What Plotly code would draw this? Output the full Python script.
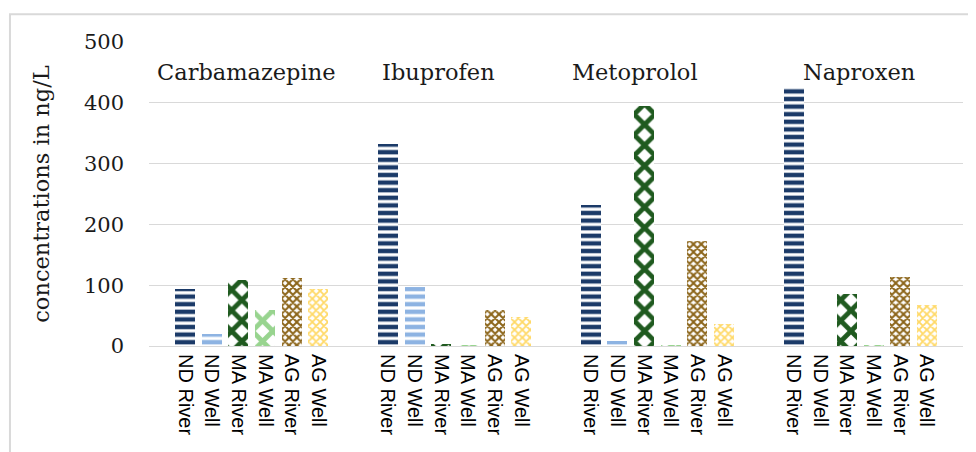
import plotly.graph_objects as go

# ---- data ----
compounds = ["Carbamazepine", "Ibuprofen", "Metoprolol", "Naproxen"]
sites = ["ND River", "ND Well", "MA River", "MA Well", "AG River", "AG Well"]

nd_river = [94, 333, 232, 424]
nd_well = [19, 97, 8, 0]
ma_river = [109, 3, 394, 86]
ma_well = [59, 1, 1, 1]
ag_river = [112, 60, 172, 113]
ag_well = [94, 47, 37, 68]

y_ticks = [0, 100, 200, 300, 400, 500]
y_title = "concentrations in ng/L"

series = [nd_river, nd_well, ma_river, ma_well, ag_river, ag_well]

# ---- layout / style ----
GROUP_STEP = 7.6
BAR_WIDTH = 0.75
label_offsets = [2.3, 1.9, 1.65, 2.45]

styles = [
    dict(color="#1b3a68", shape="-", size=7.6, solidity=0.58),
    dict(color="#8db3e2", shape="-", size=7.6, solidity=0.58),
    dict(color="#1f5a1f", shape="x", size=14.6, solidity=0.55),
    dict(color="#98d48f", shape="x", size=14.6, solidity=0.55),
    dict(color="#8b6418", shape="x", size=5.5, solidity=0.6),
    dict(color="#ffd966", shape="x", size=5.5, solidity=0.55),
]

fig = go.Figure()
tickvals, ticktext = [], []
for i, (site, vals, st) in enumerate(zip(sites, series, styles)):
    xs = [g * GROUP_STEP + i for g in range(len(compounds))]
    tickvals += xs
    ticktext += [site] * len(xs)
    fig.add_trace(go.Bar(
        x=xs, y=vals, name=site, width=BAR_WIDTH,
        marker=dict(
            color=st["color"],
            line=dict(width=0),
            pattern=dict(shape=st["shape"], fgcolor=st["color"], bgcolor="white",
                         size=st["size"], solidity=st["solidity"], fillmode="replace"),
        ),
        showlegend=False,
    ))

for g, name in enumerate(compounds):
    fig.add_annotation(
        x=g * GROUP_STEP + label_offsets[g], y=451, xref="x", yref="y",
        text=name, showarrow=False,
        font=dict(family="DejaVu Serif", size=22.5, color="#1a1a1a"),
    )

# outer chart frame
fig.add_shape(type="rect", xref="paper", yref="paper",
              x0=-0.1708, x1=1.05, y0=-0.5, y1=1.091,
              line=dict(color="#d9d9d9", width=2), fillcolor="rgba(0,0,0,0)")

fig.update_layout(
    width=976, height=452,
    margin=dict(l=141, r=21, t=34, b=114),
    paper_bgcolor="white", plot_bgcolor="white",
    barmode="overlay",
    bargap=0,
    xaxis=dict(
        range=[-1.35, 3 * GROUP_STEP + 5 + 1.35],
        tickmode="array", tickvals=tickvals, ticktext=ticktext,
        tickangle=90,
        tickfont=dict(family="Liberation Sans", size=20, color="#000000"),
        showgrid=False, zeroline=False,
        showline=True, linecolor="#d9d9d9", linewidth=1,
        ticks="", ticklabelstandoff=3,
    ),
    yaxis=dict(
        range=[0, 500], tickmode="array", tickvals=y_ticks,
        tickfont=dict(family="DejaVu Serif", size=21, color="#1a1a1a"),
        showgrid=True, gridcolor="#d9d9d9", gridwidth=1,
        zeroline=False, showline=False, ticks="",
        ticklabelstandoff=24,
        title=dict(text=y_title, standoff=28,
                   font=dict(family="DejaVu Serif", size=22.5, color="#1a1a1a")),
    ),
)

fig.write_html("out.html")
